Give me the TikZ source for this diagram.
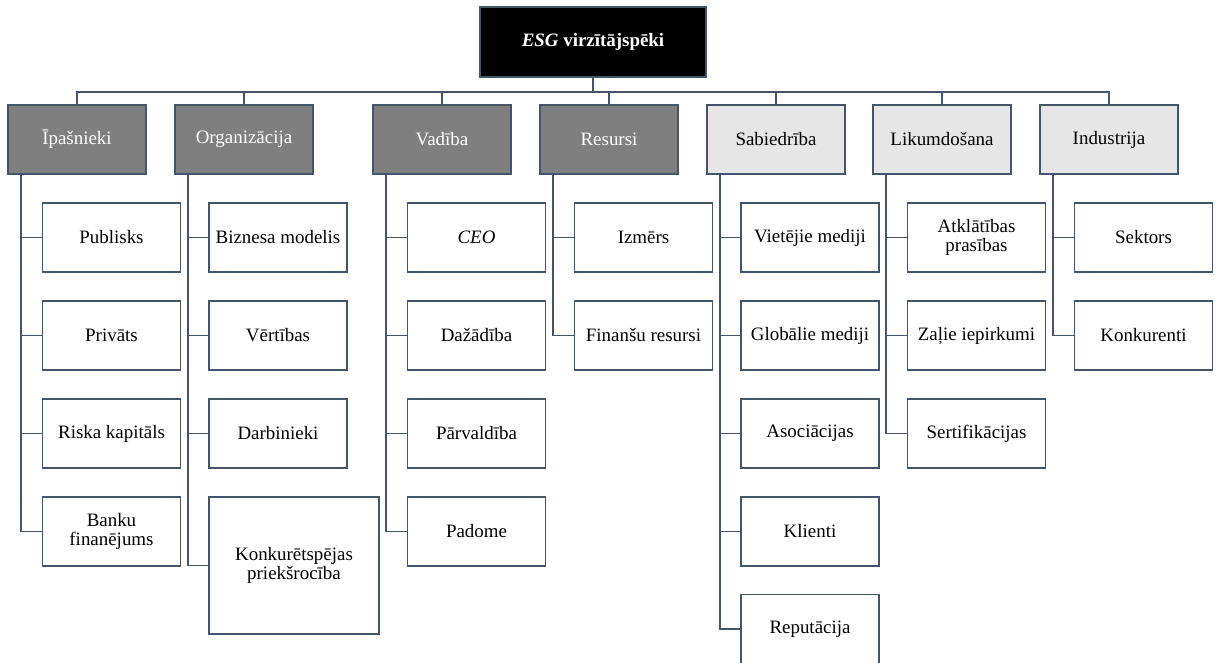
\documentclass[tikz,border=0pt]{standalone}
\usepackage{fontspec}
\setmainfont{Liberation Serif}
\definecolor{edgeblue}{HTML}{44546A}
\definecolor{darkgrey}{HTML}{7F7F7F}
\definecolor{lightgrey}{HTML}{E7E6E6}
\begin{document}
\begin{tikzpicture}[x=1bp,y=-1bp,
	box/.style={draw=edgeblue, line width=1.8bp, minimum width=138bp, minimum height=69bp, inner sep=2bp, align=center, font=\fontsize{19}{19}\selectfont},
	rootbox/.style={box, fill=black, text=white, minimum width=226bp, minimum height=70bp},
	innerbox/.style={box, fill=darkgrey, text=white},
	outerbox/.style={box, fill=lightgrey},
	leafbox/.style={box, fill=white},
	link/.style={draw=edgeblue, line width=1.8bp}]
		\useasboundingbox (0,0) rectangle (1219,663);
		
		\node[rootbox] (esg) at (593,42) {\textbf{\textit{ESG} virzītājspēki}};
		
		% first level
		\node[innerbox] (own) at (77,139.5) {Īpašnieki};
		\node[innerbox] (org) at (244,139.5) {Organizācija};
		\node[innerbox] (vad) at (442,139.5) {Vadība};
		\node[innerbox] (res) at (609,139.5) {Resursi};
		\node[outerbox] (sab) at (776,139.5) {Sabiedrība};
		\node[outerbox] (lik) at (942,139.5) {Likumdošana};
		\node[outerbox] (ind) at (1109,139.5) {Industrija};
		\foreach \g in {own,org,vad,res,sab,lik,ind}
			\draw[link] (esg.south) -- ++(0,14) -| (\g.north);
		
		% owners
		\node[leafbox] (pub) at (111.5,237.5) {Publisks};
		\node[leafbox] (pri) at (111.5,335.5) {Privāts};
		\node[leafbox] (ris) at (111.5,433.5) {Riska kapitāls};
		\node[leafbox] (ban) at (111.5,531.5) {Banku\\finanējums};
		
		% organisation
		\node[leafbox] (biz) at (278,237.5) {Biznesa modelis};
		\node[leafbox] (ver) at (278,335.5) {Vērtības};
		\node[leafbox] (dar) at (278,433.5) {Darbinieki};
		\node[leafbox, minimum width=170bp, minimum height=137bp] (kon) at (294,565.5) {Konkurētspējas\\priekšrocība};
		
		% management
		\node[leafbox] (ceo) at (476.5,237.5) {\textit{CEO}};
		\node[leafbox] (daz) at (476.5,335.5) {Dažādība};
		\node[leafbox] (par) at (476.5,433.5) {Pārvaldība};
		\node[leafbox] (pad) at (476.5,531.5) {Padome};
		
		% resources
		\node[leafbox] (izm) at (643.5,237.5) {Izmērs};
		\node[leafbox] (fin) at (643.5,335.5) {Finanšu resursi};
		
		% society
		\node[leafbox] (vie) at (810,237.5) {Vietējie mediji};
		\node[leafbox] (glo) at (810,335.5) {Globālie mediji};
		\node[leafbox] (aso) at (810,433.5) {Asociācijas};
		\node[leafbox] (kli) at (810,531.5) {Klienti};
		\node[leafbox] (rep) at (810,629) {Reputācija};
		
		% legislation
		\node[leafbox] (atk) at (976.5,237.5) {Atklātības\\prasības};
		\node[leafbox] (zal) at (976.5,335.5) {Zaļie iepirkumi};
		\node[leafbox] (ser) at (976.5,433.5) {Sertifikācijas};
		
		% industry
		\node[leafbox] (sek) at (1143.5,237.5) {Sektors};
		\node[leafbox] (knk) at (1143.5,335.5) {Konkurenti};
		
		\foreach \c in {pub,pri,ris,ban} \draw[link] ([xshift=14bp]own.south west) |- (\c.west);
		\foreach \c in {biz,ver,dar,kon} \draw[link] ([xshift=14bp]org.south west) |- (\c.west);
		\foreach \c in {ceo,daz,par,pad} \draw[link] ([xshift=14bp]vad.south west) |- (\c.west);
		\foreach \c in {izm,fin} \draw[link] ([xshift=14bp]res.south west) |- (\c.west);
		\foreach \c in {vie,glo,aso,kli,rep} \draw[link] ([xshift=14bp]sab.south west) |- (\c.west);
		\foreach \c in {atk,zal,ser} \draw[link] ([xshift=14bp]lik.south west) |- (\c.west);
		\foreach \c in {sek,knk} \draw[link] ([xshift=14bp]ind.south west) |- (\c.west);
\end{tikzpicture}
\end{document}
